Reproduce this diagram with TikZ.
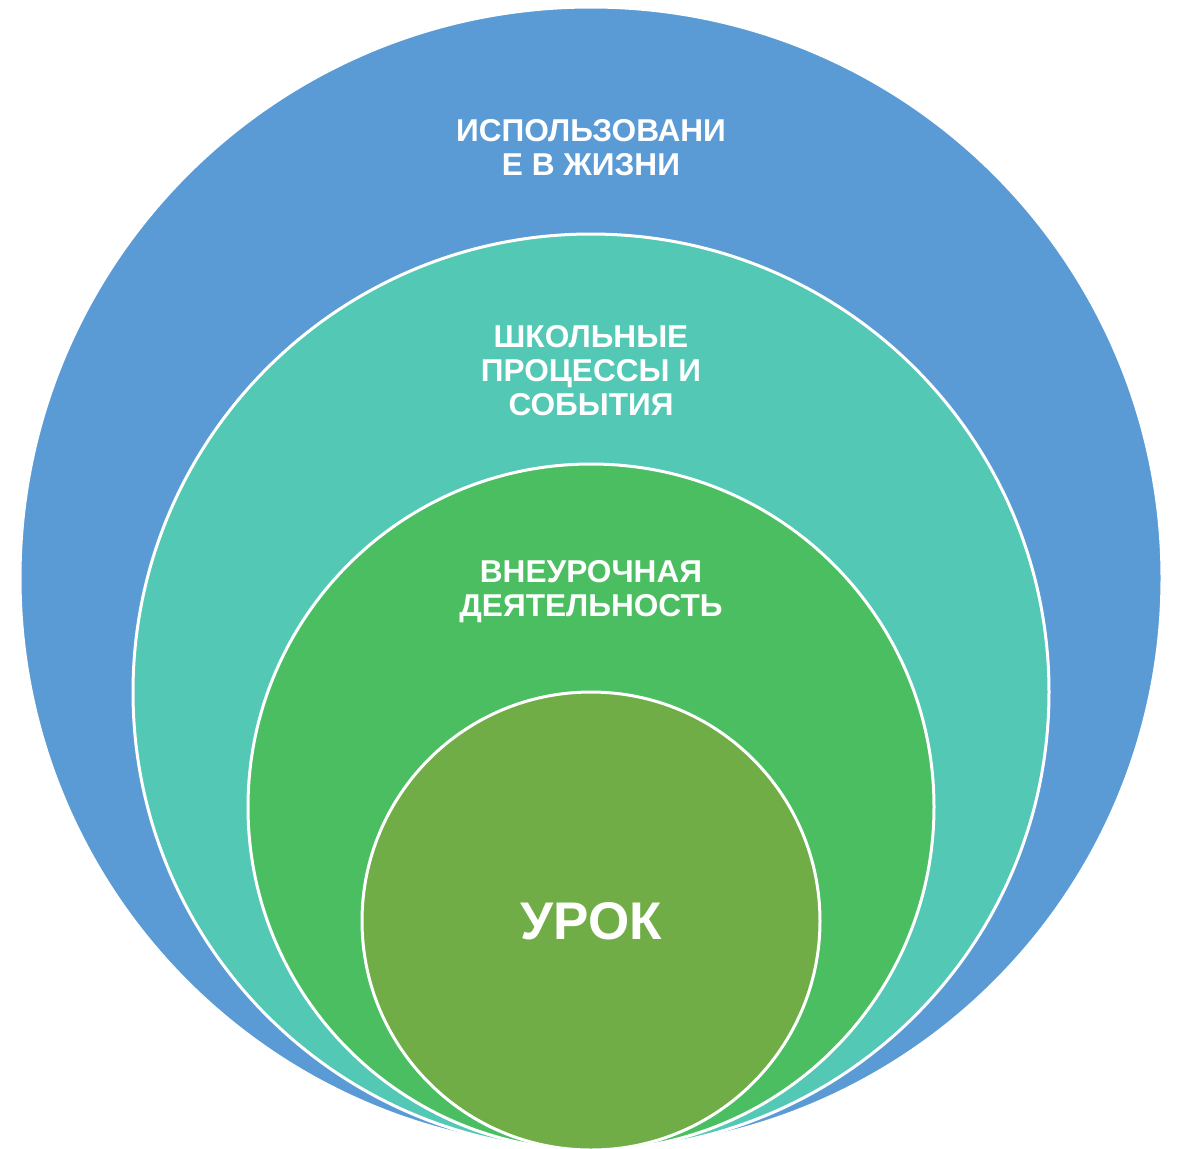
\documentclass[tikz,border=0pt]{standalone}
\usepackage{fontspec}
\setmainfont{Liberation Sans}
\definecolor{lifeblue}{HTML}{5B9BD5}
\definecolor{schoolteal}{HTML}{52C8B5}
\definecolor{extragreen}{HTML}{4ABE60}
\definecolor{lessongreen}{HTML}{70AD47}
\tikzset{
  ring/.style={circle, inner sep=0pt, draw=white, line width=1.5pt},
  ringtext/.style={text=white, align=center, font=\fontsize{15.8}{17}\selectfont\bfseries}
}
\begin{document}
\begin{tikzpicture}[x=0.5pt, y=-0.5pt]
            \useasboundingbox (0, 0) rectangle (1179, 1148);

            \node[ring, fill=lifeblue, minimum size=571pt] (life) at (591, 578) {};

            \node[ring, fill=schoolteal, minimum size=458pt] (school) at (591, 692) {};

            \node[ring, fill=extragreen, minimum size=343pt] (extra) at (591, 807) {};

            \node[ring, fill=lessongreen, minimum size=229pt] (lesson) at (591, 921) {};

            \node[ringtext] (lifetext) at (591, 148) {ИСПОЛЬЗОВАНИ\\Е В ЖИЗНИ};

            \node[ringtext] (schooltext) at (591, 371) {ШКОЛЬНЫЕ\\ПРОЦЕССЫ И\\СОБЫТИЯ};

            \node[ringtext] (extratext) at (591, 592) {ВНЕУРОЧНАЯ\\ДЕЯТЕЛЬНОСТЬ};

            \node[ringtext, font=\fontsize{26.5}{30}\selectfont\bfseries] (lessontext) at (lesson.center) {УРОК};
        \end{tikzpicture}
\end{document}
